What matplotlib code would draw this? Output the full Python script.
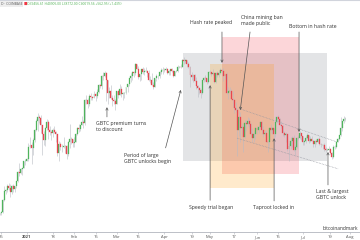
import matplotlib
matplotlib.use("Agg")
import matplotlib.pyplot as plt
import matplotlib.dates as mdates
from matplotlib.patches import Rectangle
import numpy as np
import pandas as pd

# BTC/USD daily candles, Coinbase, in thousands of USD (13 Dec 2020 .. 29 Jul 2021)
start_date = "2020-12-13"
first_open = 18.80
closes = [
    19.17, 19.27, 19.44, 21.38, 22.85, 23.13, 23.85, 23.48, 22.75, 23.83, 23.25, 23.73, 24.71, 26.49, 26.28, 27.08, 27.37, 28.88, 28.99,
    29.37, 32.13, 32.78, 31.97, 33.99, 36.82, 39.37, 40.80, 40.25, 38.24, 35.54, 34.01, 37.39, 39.16, 36.83, 36.18,
    35.79, 36.63, 36.07, 35.55, 30.83, 33.00, 32.10, 32.29, 32.37, 32.57, 30.43, 33.47, 34.32, 34.32, 33.11,
    33.54, 35.51, 37.47, 36.93, 38.14, 39.27, 38.83, 46.37, 46.49, 44.84, 47.97, 47.40, 47.19, 48.60,
    47.95, 49.20, 52.15, 51.68, 55.89, 55.84, 57.41, 54.09, 48.90, 49.70, 47.09, 46.34, 46.19, 45.14,
    49.63, 48.38, 50.54, 48.44, 48.86, 48.88, 51.21, 52.38, 54.88, 55.89, 57.81, 57.23, 61.19, 59.00, 55.62,
    56.91, 58.92, 57.66, 58.09, 58.09, 57.35, 54.11, 54.34, 52.30, 51.32, 55.03, 55.82, 55.78, 57.63, 58.73, 58.74,
    58.72, 58.97, 57.06, 58.20, 59.13, 57.99, 56.00, 58.09, 58.09, 59.77, 59.96, 59.83, 63.55, 62.96, 63.20,
    61.40, 60.01, 56.15, 55.66, 56.47, 53.80, 51.70, 51.14, 50.05, 49.00, 54.02, 55.05, 54.88, 53.58, 57.75,
    57.83, 56.63, 57.20, 53.33, 57.42, 56.40, 57.36, 58.80, 58.23, 55.85, 56.70, 49.15, 49.72, 49.88, 46.76,
    46.43, 43.54, 42.91, 36.73, 40.63, 37.30, 37.54, 34.77, 38.71, 38.40, 39.29, 38.56, 35.66, 34.65, 35.68, 37.34,
    36.69, 37.58, 39.19, 36.88, 35.54, 35.80, 33.57, 33.40, 37.39, 36.69, 37.34, 35.55, 39.10, 40.52, 40.14,
    38.35, 38.05, 35.82, 35.48, 35.60, 31.68, 32.51, 33.68, 34.66, 31.59, 32.16, 34.65, 34.50, 35.91, 35.04,
    33.57, 33.80, 34.67, 35.29, 33.70, 34.22, 33.86, 32.88, 33.81, 33.51, 34.26, 33.09, 32.73, 32.82, 31.78,
    31.42, 31.53, 31.78, 30.84, 29.79, 32.14, 32.29, 33.59, 34.29, 35.38, 37.27, 39.46, 40.01, 40.02,
]
highs = [
    19.41, 19.35, 19.57, 21.56, 23.77, 23.28, 24.17, 24.29, 24.10, 23.99, 24.10, 23.78, 24.75, 26.72, 28.42, 27.39, 27.39, 28.99, 29.30,
    29.60, 33.30, 34.79, 33.60, 34.44, 36.94, 40.18, 41.95, 41.35, 41.42, 38.32, 36.62, 37.60, 40.10, 39.70, 37.90,
    36.80, 37.30, 37.90, 36.40, 35.60, 33.80, 33.50, 32.90, 34.80, 32.80, 32.60, 33.80, 38.40, 34.90, 34.40,
    34.70, 35.90, 37.70, 38.60, 38.30, 40.90, 39.60, 46.70, 48.10, 47.30, 48.60, 48.90, 48.00, 49.70,
    49.00, 50.60, 52.60, 52.50, 56.20, 57.50, 58.35, 57.50, 54.20, 51.30, 52.00, 48.40, 48.30, 46.60,
    49.80, 50.20, 52.60, 51.80, 49.40, 49.30, 51.40, 52.40, 54.90, 57.20, 58.00, 58.00, 61.70, 61.50, 60.50,
    56.90, 58.95, 60.00, 59.40, 59.80, 58.50, 58.40, 55.80, 57.20, 53.20, 55.10, 56.60, 56.50, 58.30, 59.40, 59.80,
    59.50, 60.00, 59.70, 58.50, 59.20, 59.40, 58.60, 58.20, 58.80, 61.10, 60.60, 61.20, 63.70, 64.85, 63.80,
    63.50, 62.50, 60.40, 57.50, 57.00, 56.70, 55.40, 52.10, 51.20, 50.50, 54.30, 55.40, 56.40, 55.20, 57.90,
    58.40, 57.90, 58.90, 57.20, 57.90, 58.30, 58.60, 59.50, 59.20, 59.50, 56.80, 57.90, 51.30, 51.40, 50.70,
    49.60, 46.60, 45.80, 43.50, 42.50, 42.20, 38.80, 38.20, 39.80, 39.70, 40.80, 40.40, 38.80, 37.30, 36.40, 37.50,
    37.90, 38.20, 39.50, 39.30, 37.90, 36.80, 36.80, 34.00, 37.50, 38.40, 37.70, 37.40, 39.30, 41.00, 41.30,
    40.50, 39.50, 38.20, 36.40, 36.10, 35.70, 33.30, 34.80, 35.20, 35.50, 32.70, 34.70, 35.30, 36.60, 36.00,
    35.00, 33.90, 35.00, 35.90, 35.30, 35.00, 35.00, 33.90, 34.10, 34.20, 34.60, 34.70, 33.30, 33.10, 33.20,
    32.20, 31.90, 32.40, 31.90, 31.10, 32.80, 32.60, 33.60, 34.50, 35.40, 40.55, 39.50, 40.90, 40.60,
]
lows = [
    18.73, 19.00, 19.05, 19.28, 21.25, 22.35, 22.75, 23.07, 21.82, 22.37, 22.70, 22.73, 23.45, 24.50, 25.82, 26.07, 25.86, 27.32, 27.99,
    28.80, 29.00, 32.00, 28.13, 30.22, 33.39, 36.49, 36.57, 38.79, 35.98, 30.26, 32.60, 32.50, 36.80, 34.40, 35.40,
    33.90, 34.80, 35.90, 33.40, 30.10, 28.90, 31.40, 30.90, 31.90, 30.80, 29.25, 30.00, 31.90, 32.90, 32.30,
    32.30, 33.40, 35.40, 36.20, 36.60, 38.10, 37.40, 38.20, 45.00, 43.70, 44.20, 46.40, 46.30, 47.10,
    46.10, 47.10, 48.90, 50.90, 50.70, 54.00, 55.50, 46.00, 44.90, 47.00, 46.70, 44.40, 45.10, 43.00,
    45.10, 47.10, 48.20, 47.50, 46.30, 47.10, 48.70, 49.30, 51.90, 53.20, 54.40, 55.30, 56.20, 58.90, 54.60,
    53.70, 54.20, 57.00, 56.30, 57.90, 55.50, 53.70, 53.00, 52.00, 50.40, 51.30, 53.96, 54.70, 54.90, 57.00, 56.90,
    57.90, 58.50, 56.80, 56.50, 56.50, 57.50, 55.50, 55.80, 57.70, 57.90, 59.30, 59.40, 59.80, 61.30, 62.10,
    60.00, 59.60, 51.30, 54.20, 53.40, 53.60, 50.40, 47.50, 48.80, 47.00, 48.80, 53.30, 53.90, 52.40, 53.10,
    57.00, 56.00, 56.50, 53.10, 52.90, 55.40, 55.30, 56.90, 56.30, 53.90, 54.50, 48.60, 46.60, 48.90, 46.60,
    43.80, 42.00, 42.30, 30.00, 35.00, 33.50, 35.30, 31.10, 34.50, 36.50, 37.80, 37.20, 34.80, 33.60, 33.40, 34.20,
    35.70, 35.90, 37.20, 35.60, 34.80, 35.30, 33.40, 31.00, 32.40, 35.80, 35.70, 34.60, 34.80, 38.70, 39.50,
    38.10, 37.40, 35.20, 34.80, 33.40, 31.30, 28.80, 31.70, 32.30, 31.30, 30.20, 32.00, 33.90, 34.20, 34.00,
    32.70, 32.70, 33.30, 34.40, 33.20, 33.50, 33.80, 32.10, 32.30, 33.10, 33.30, 32.70, 32.30, 31.60, 31.20,
    31.10, 31.20, 31.10, 30.50, 29.30, 29.50, 31.70, 32.00, 33.40, 33.90, 35.20, 36.40, 38.80, 39.30,
]

tick_dates = ["2020-12-15", "2021-01-01", "2021-01-18", "2021-02-01", "2021-02-15", "2021-03-01",
              "2021-03-15", "2021-04-01", "2021-04-19", "2021-05-01", "2021-05-17", "2021-06-01",
              "2021-06-15", "2021-07-01", "2021-07-19", "2021-08-01"]
tick_labels = ["15", "2021", "18", "Feb", "15", "Mar", "15", "Apr", "19", "May", "17", "Jun",
               "15", "Jul", "19", "Aug"]

# shaded periods: (start, end, low, high, colour, alpha)
zones = [
    ("2021-04-13 10:00", "2021-07-17 00:00", 28.9, 66.8, "#9598a1", 0.26),
    ("2021-05-09 00:00", "2021-06-28 14:00", 26.1, 75.7, "#f23645", 0.2),
    ("2021-05-01 05:00", "2021-06-12 05:00", 23.4, 61.4, "#ff9800", 0.2),
]

# labels: (date, price, text, ha)
labels = [
    ("2021-05-01 18:00", 85.0, "Hash rate peaked", "center"),
    ("2021-05-21 12:00", 86.0, "China mining ban\nmade public", "left"),
    ("2021-06-22 00:00", 82.4, "Bottom in hash rate", "left"),
    ("2021-02-15 00:00", 37.8, "GBTC premium turns\nto discount", "left"),
    ("2021-03-06 00:00", 29.5, "Period of large\nGBTC unlocks begin", "left"),
    ("2021-05-01 18:00", 20.2, "Speedy trial began", "center"),
    ("2021-06-11 22:00", 20.2, "Taproot locked in", "center"),
    ("2021-07-09 20:00", 22.2, "Last & largest\nGBTC unlock", "left"),
]

# pointers: (tail date, tail price, tip date, tip price)
pointers = [
    ("2021-05-09 00:00", 78.7, "2021-05-09 00:00", 61.9),
    ("2021-05-27 10:00", 78.7, "2021-05-21 00:00", 42.9),
    ("2021-06-28 14:00", 78.7, "2021-06-28 14:00", 36.2),
    ("2021-02-22 12:00", 40.7, "2021-02-22 12:00", 43.9),
    ("2021-04-02 00:00", 32.0, "2021-04-12 00:00", 50.2),
    ("2021-05-01 05:00", 21.3, "2021-05-01 05:00", 52.1),
    ("2021-06-12 05:00", 21.2, "2021-06-12 05:00", 34.5),
    ("2021-07-17 14:00", 24.0, "2021-07-17 14:00", 31.0),
]

# descending channel
channel = [
    ("2021-05-20 22:00", 43.3, "2021-07-23 12:00", 33.5),
    ("2021-05-18 22:00", 34.5, "2021-07-24 05:00", 27.2),
]


def dn(s):
    return mdates.date2num(pd.Timestamp(s))


plt.rcParams["font.family"] = ["Open Sans", "DejaVu Sans"]

fig = plt.figure(figsize=(3.6, 2.4), dpi=100)
ax = fig.add_axes([0, 8 / 240, 1, 232 / 240])
ax.set_yscale("log")

x = mdates.date2num(pd.date_range(start_date, periods=len(closes), freq="D"))
c = np.array(closes)
o = np.array([first_open] + closes[:-1])
h = np.array(highs)
lo = np.array(lows)
up = c >= o

green = "#4fb35c"
red = "#e8464f"

for start, end, y0, y1, col, a in zones:
    ax.add_patch(Rectangle((dn(start), y0), dn(end) - dn(start), y1 - y0,
                           facecolor=col, alpha=a, edgecolor="none", zorder=1))

ax.vlines(x, lo, h, color="#b8bbc3", lw=0.4, zorder=2)
ax.bar(x[up], (c - o)[up], bottom=o[up], width=0.62, color=green, edgecolor=green, lw=0.2, zorder=3)
ax.bar(x[~up], (o - c)[~up], bottom=c[~up], width=0.62, color=red, edgecolor=red, lw=0.2, zorder=3)

for d0, p0, d1, p1 in channel:
    ax.plot([dn(d0), dn(d1)], [p0, p1], color="#9598a1", lw=0.5, ls=(0, (1, 1.2)), zorder=4)

for d0, p0, d1, p1 in pointers:
    ax.annotate("", xy=(dn(d1), p1), xytext=(dn(d0), p0),
                arrowprops=dict(arrowstyle="->", lw=0.5, color="#555555",
                                mutation_scale=4, shrinkA=0, shrinkB=0), zorder=5)

for d, p, txt, ha in labels:
    ax.text(dn(d), p, txt, ha=ha, va="center", fontsize=3.7, color="#333333",
            linespacing=1.25, zorder=6)

jan1 = dn("2021-01-01")
ax.set_xlim(jan1 - 17.7, jan1 + 218.6)
ax.set_ylim(16.65, 100.9)

ax.set_xticks([dn(t) for t in tick_dates])
ax.set_xticklabels(tick_labels)
ax.tick_params(axis="x", length=1.5, width=0.4, color="#b2b5be", labelsize=3,
               labelcolor="#555555", pad=0.8)
ax.get_xticklabels()[1].set_fontweight("bold")
ax.set_yticks([])
ax.yaxis.set_minor_locator(matplotlib.ticker.NullLocator())
for side in ["left", "right", "top"]:
    ax.spines[side].set_visible(False)
ax.spines["bottom"].set_color("#b2b5be")
ax.spines["bottom"].set_linewidth(0.6)

# header and watermark
fig.text(0.003, 0.983, "D · COINBASE", fontsize=2.4, color="#555555", va="center",
         bbox=dict(boxstyle="square,pad=0.2", fc="#eeeeee", ec="none"))
fig.text(0.066, 0.983, "■", fontsize=2.6, color="#f23645", va="center")
fig.text(0.076, 0.983, "O39456.61 H40905.00 L38772.00 C40019.56 +562.95 (+1.43%)",
         fontsize=2.3, color="#4caf50", va="center")
fig.text(323 / 360, 12 / 240, "bitcoinandmark", fontsize=3.5, color="#333333", va="center")
fig.add_artist(plt.Line2D([0, 1], [0.998, 0.998], color="#d1d4dc", lw=0.8))

fig.savefig("out.png", dpi=100)
